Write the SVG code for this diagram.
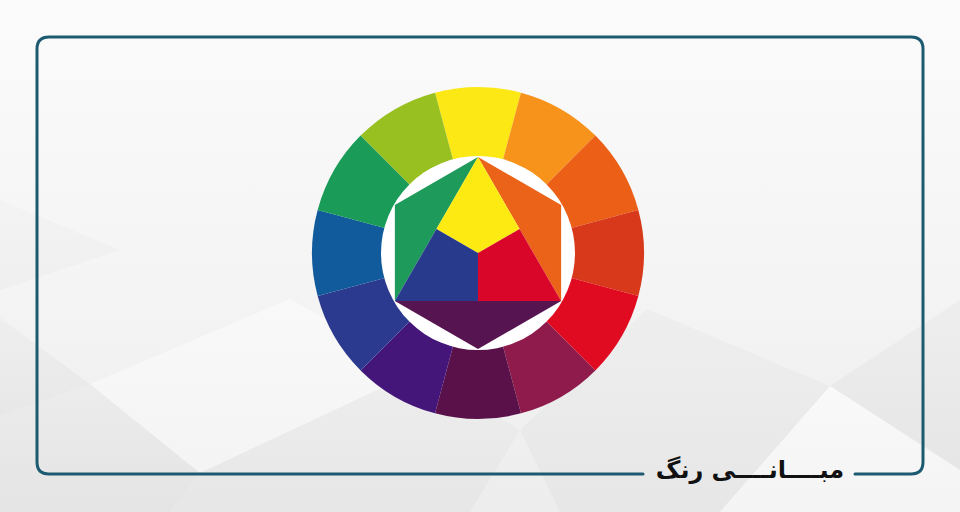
<svg xmlns="http://www.w3.org/2000/svg" width="960" height="512" viewBox="0 0 960 512">
<defs>
<linearGradient id="bg" x1="0" y1="0" x2="0" y2="1">
<stop offset="0" stop-color="#fbfbfb"/>
<stop offset="0.5" stop-color="#f5f5f5"/>
<stop offset="1" stop-color="#ededed"/>
</linearGradient>
<linearGradient id="dark" x1="0" y1="0" x2="0" y2="1">
<stop offset="0" stop-color="#ececec"/>
<stop offset="1" stop-color="#e4e4e4"/>
</linearGradient>
<linearGradient id="lite" x1="0" y1="0" x2="0" y2="1">
<stop offset="0" stop-color="#f9f9f9"/>
<stop offset="1" stop-color="#f4f4f4"/>
</linearGradient>
</defs>
<style>
.frame{fill:none;stroke:#1c5a72;stroke-width:3;stroke-linecap:round}
.title{font-family:"DejaVu Sans","Noto Sans",sans-serif;font-weight:bold;font-size:24px;fill:#111}
.facet-d{fill:url(#dark)}
.facet-l{fill:url(#lite)}
</style>
<g id="background">
<rect x="0" y="0" width="960" height="512" fill="url(#bg)"/>
<polygon class="facet-d" points="0,318 90,384 0,416" opacity="0.7"/>
<polygon class="facet-d" points="0,416 90,384 200,473 170,512 0,512"/>
<polygon class="facet-l" points="90,384 290,299 420,370 200,473"/>
<polygon class="facet-d" points="200,473 420,370 520,430 470,512 170,512" opacity="0.7"/>
<polygon class="facet-d" points="647,309 830,386 720,512 560,512 520,430" opacity="0.7"/>
<polygon class="facet-d" points="830,386 960,300 960,470" opacity="0.8"/>
<polygon class="facet-l" points="830,386 960,470 960,512 720,512"/>
<polygon class="facet-d" points="0,200 120,250 0,290" opacity="0.3"/>
</g>
<g id="frame">
<path class="frame" d="M643,474 L49,474 Q37,474 37,462 L37,49 Q37,37 49,37 L911,37 Q923,37 923,49 L923,462 Q923,474 911,474 L855,474"/>
</g>
<g id="color-wheel">
<g id="ring">
<path d="M478,253 L435.04,92.65 A166,166 0 0 1 520.96,92.65 Z" fill="#fbe815"/>
<path d="M478,253 L520.96,92.65 A166,166 0 0 1 595.38,135.62 Z" fill="#f7921a"/>
<path d="M478,253 L595.38,135.62 A166,166 0 0 1 638.35,210.04 Z" fill="#eb5f17"/>
<path d="M478,253 L638.35,210.04 A166,166 0 0 1 638.35,295.96 Z" fill="#d9391b"/>
<path d="M478,253 L638.35,295.96 A166,166 0 0 1 595.38,370.38 Z" fill="#e00b20"/>
<path d="M478,253 L595.38,370.38 A166,166 0 0 1 520.96,413.35 Z" fill="#8f1a4c"/>
<path d="M478,253 L520.96,413.35 A166,166 0 0 1 435.04,413.35 Z" fill="#5a1149"/>
<path d="M478,253 L435.04,413.35 A166,166 0 0 1 360.62,370.38 Z" fill="#45167a"/>
<path d="M478,253 L360.62,370.38 A166,166 0 0 1 317.65,295.96 Z" fill="#2b3a8f"/>
<path d="M478,253 L317.65,295.96 A166,166 0 0 1 317.65,210.04 Z" fill="#115b9c"/>
<path d="M478,253 L317.65,210.04 A166,166 0 0 1 360.62,135.62 Z" fill="#1a9b58"/>
<path d="M478,253 L360.62,135.62 A166,166 0 0 1 435.04,92.65 Z" fill="#98c020"/>
<circle cx="478" cy="253" r="97" fill="#ffffff"/>
</g>
<g id="hexagon">
<polygon points="478,157 394.86,205 394.86,301" fill="#1e9a5a"/>
<polygon points="478,157 561.14,205 561.14,301" fill="#eb6219"/>
<polygon points="394.86,301 478,349 561.14,301" fill="#561450"/>
<polygon points="478,157 519.57,229 478,253 436.43,229" fill="#fdea13"/>
<polygon points="478,253 519.57,229 561.14,301 478,301" fill="#d9062a"/>
<polygon points="478,253 478,301 394.86,301 436.43,229" fill="#273a8c"/>
</g>
</g>
<g id="title">
<text class="title" x="750" y="478" text-anchor="middle" direction="rtl">مبــــانــــی رنگ</text>
</g>
</svg>
